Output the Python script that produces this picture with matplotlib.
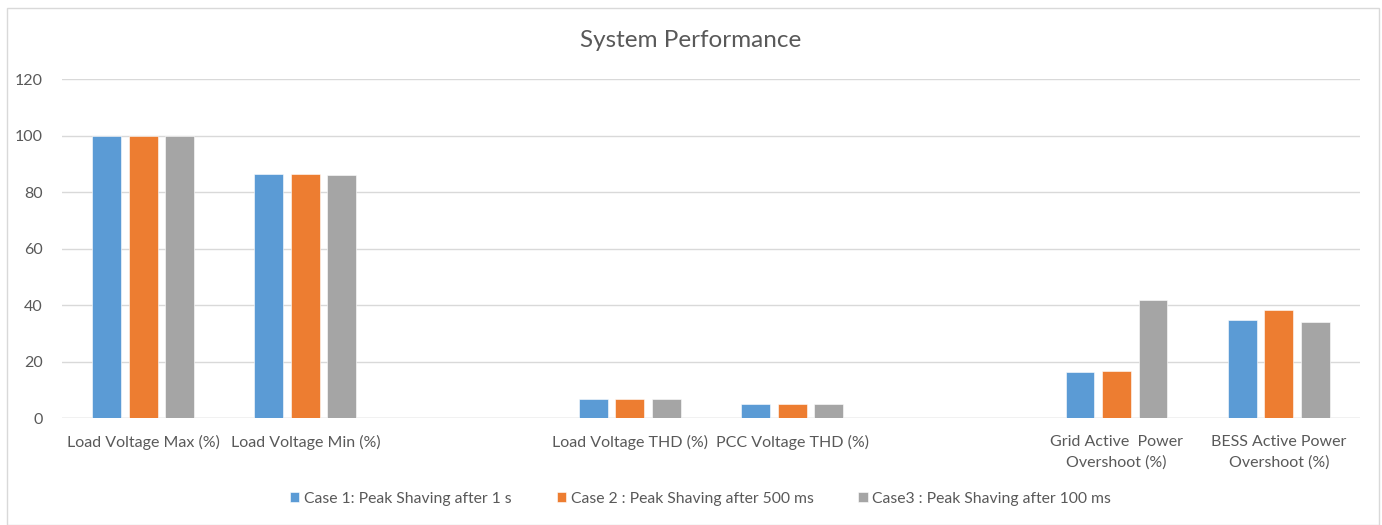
import matplotlib
matplotlib.use("Agg")
import matplotlib.pyplot as plt
import numpy as np
from matplotlib.patches import Rectangle

plt.rcParams['font.family'] = ['Lato', 'DejaVu Sans']

# Data
categories = ["Load Voltage Max (%)", "Load Voltage Min (%)", "",
              "Load Voltage THD (%)", "PCC Voltage THD (%)", "",
              "Grid Active  Power\nOvershoot (%)", "BESS Active Power\nOvershoot (%)"]
case1 = [100, 86.5, np.nan, 6.8, 5.1, np.nan, 16.4, 34.7]
case2 = [100, 86.3, np.nan, 6.9, 5.0, np.nan, 16.7, 38.2]
case3 = [100, 86.1, np.nan, 6.6, 4.9, np.nan, 41.8, 34.1]
series_names = ["Case 1: Peak Shaving after 1 s",
                "Case 2 : Peak Shaving after 500 ms",
                "Case3 : Peak Shaving after 100 ms"]
colors = ["#5b9bd5", "#ed7d31", "#a5a5a5"]

fig = plt.figure(figsize=(13.82, 5.25), dpi=100)
ax = fig.add_axes([0.0449, 0.2038, 0.9391, 0.6457])

x = np.arange(len(categories))
offset = 0.225
width = 0.178
for i, (vals, name, c) in enumerate(zip([case1, case2, case3], series_names, colors)):
    ax.bar(x + (i - 1) * offset, vals, width, color=c, label=name, zorder=3,
           edgecolor='white', linewidth=0.4)

ax.set_xlim(-0.5, len(categories) - 0.5)
ax.set_ylim(0, 120)
ax.set_yticks(range(0, 121, 20))
ax.set_xticks(x)
ax.set_xticklabels(categories, fontsize=11.5, color="#595959", linespacing=1.55)
ax.tick_params(axis='y', labelsize=11.5, labelcolor="#595959", length=0, pad=14)
ax.tick_params(axis='x', length=0, pad=12)
ax.grid(axis='y', color="#d9d9d9", linewidth=1, zorder=0)
for s in ax.spines.values():
    s.set_visible(False)
ax.axhline(0, color="#d9d9d9", linewidth=1, zorder=2)

fig.text(0.5, 0.923, "System Performance", ha='center', va='center',
         fontsize=17.5, color="#595959")

ax.legend(loc='center', bbox_to_anchor=(0.507, 0.0495), bbox_transform=fig.transFigure,
          ncol=3, frameon=False, fontsize=11.3, labelcolor="#595959",
          handlelength=0.6, handleheight=0.6, handletextpad=0.3, columnspacing=2.85)

fig.patches.append(Rectangle((0.005, 0.0), 0.993, 0.985, transform=fig.transFigure,
                             fill=False, edgecolor="#d9d9d9", linewidth=1))

fig.savefig("out.png", dpi=100, facecolor='white')
